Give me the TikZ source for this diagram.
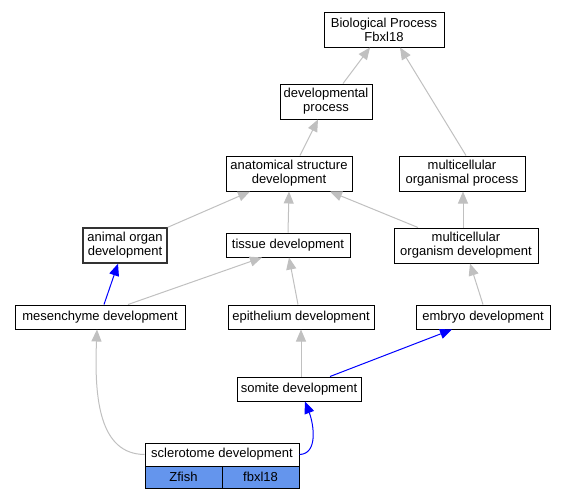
\documentclass[tikz,border=0pt]{standalone}
\usepackage{fontspec}
\setmainfont{Liberation Sans}
\usetikzlibrary{arrows.meta}
\definecolor{isagray}{HTML}{C0C0C0}
\definecolor{genefill}{HTML}{6495ED}

\begin{document}
\begin{tikzpicture}[x=1pt,y=-1pt,
    term/.style={draw, line width=1pt, fill=white, align=center, inner sep=0pt, minimum height=24pt, font=\fontsize{13}{14}\selectfont},
    twoline/.style={term, minimum height=35pt},
    genecell/.style={term, fill=genefill, minimum width=77pt, minimum height=22pt},
    isa/.style={draw=isagray, line width=1pt, -{Triangle[length=12pt,width=10pt]}},
    partof/.style={isa, draw=blue}]
    \useasboundingbox (0,0) rectangle (567,499);

    % terms
    \node[twoline, minimum width=120pt] (bp) at (384,29.5) {Biological Process\\Fbxl18};
    \node[twoline, minimum width=92pt] (dev) at (326,101.5) {developmental\\process};
    \node[twoline, minimum width=126pt] (asd) at (289,173.5) {anatomical structure\\development};
    \node[twoline, minimum width=126pt] (mop) at (462,173.5) {multicellular\\organismal process};
    \node[twoline, minimum width=84pt, line width=1.4pt, draw=black!80] (aod) at (125,245.5) {animal organ\\development};
    \node[term, minimum width=124pt] (tis) at (288,245) {tissue development};
    \node[twoline, minimum width=144pt] (mod) at (466,245.5) {multicellular\\organism development};
    \node[term, minimum width=170pt] (mes) at (100,317) {mesenchyme development};
    \node[term, minimum width=146pt] (epi) at (301,317) {epithelium development};
    \node[term, minimum width=134pt] (emb) at (483,317) {embryo development};
    \node[term, minimum width=124pt] (som) at (299,389) {somite development};
    \node[term, minimum width=154pt, minimum height=23pt] (scl) at (222,454.5) {sclerotome development};
    \node[genecell] (zf) at (183.5,477) {Zfish};
    \node[genecell] (gn) at (260.5,477) {fbxl18};

    % is_a edges
    \draw[isa] ([xshift=17pt]dev.north) -- ([xshift=-14pt]bp.south);
    \draw[isa] ([xshift=4pt]mop.north) -- ([xshift=16pt]bp.south);
    \draw[isa] ([xshift=11pt]asd.north) -- ([xshift=-8pt]dev.south);
    \draw[isa] (aod.north east) -- ([xshift=-39pt]asd.south);
    \draw[isa] (tis.north) -- (asd.south);
    \draw[isa] ([xshift=-48pt]mod.north) -- ([xshift=41pt]asd.south);
    \draw[isa] ([xshift=-3pt]mod.north) -- ([xshift=1pt]mop.south);
    \draw[isa] ([xshift=28pt]mes.north) -- ([xshift=-26pt]tis.south);
    \draw[isa] ([xshift=-3pt]epi.north) -- ([xshift=1pt]tis.south);
    \draw[isa] (emb.north) -- ([xshift=4pt]mod.south);
    \draw[isa] ([xshift=2pt]som.north) -- (epi.south);
    \draw[isa] (scl.west) .. controls (100,454) and (94,400) .. ([xshift=-3pt]mes.south);

    % part_of edges
    \draw[partof] ([xshift=4pt]mes.north) -- ([xshift=-7pt]aod.south);
    \draw[partof] ([xshift=31pt]som.north) -- ([xshift=-31pt]emb.south);
    \draw[partof] (scl.east) .. controls (318,454) and (314,425) .. ([xshift=6pt]som.south);
\end{tikzpicture}
\end{document}
